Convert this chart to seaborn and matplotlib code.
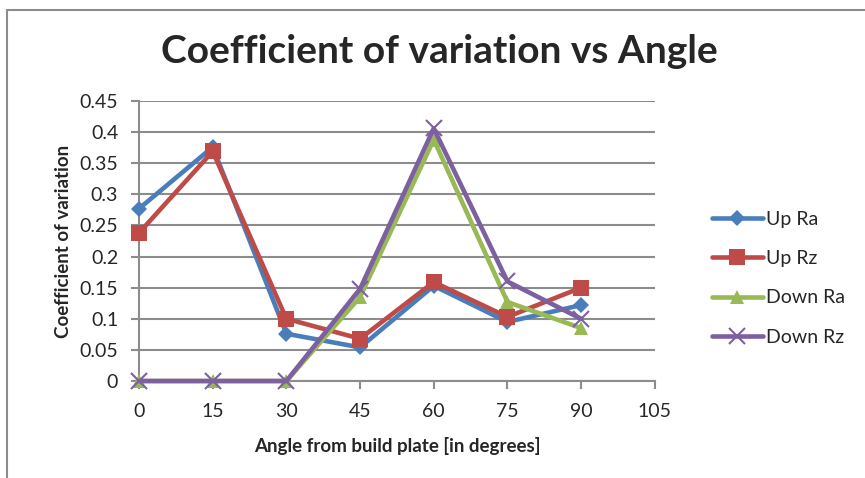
import pandas as pd
import numpy as np
import matplotlib
matplotlib.use('Agg')
import matplotlib.pyplot as plt
import seaborn as sns

# values
angles = [0, 15, 30, 45, 60, 75, 90]
up_ra = [0.277, 0.376, 0.076, 0.054, 0.153, 0.095, 0.122]
up_rz = [0.238, 0.369, 0.100, 0.068, 0.159, 0.103, 0.150]
down_ra = [0.0, 0.0, 0.0, 0.135, 0.388, 0.127, 0.085]
down_rz = [0.0, 0.0, 0.0, 0.148, 0.406, 0.160, 0.100]
series_names = ['Up Ra', 'Up Rz', 'Down Ra', 'Down Rz']
x_ticks = [0, 15, 30, 45, 60, 75, 90, 105]
y_ticks = [0, 0.05, 0.1, 0.15, 0.2, 0.25, 0.3, 0.35, 0.4, 0.45]

colors = {'Up Ra': '#4A7EBB', 'Up Rz': '#BE4B48', 'Down Ra': '#98B954', 'Down Rz': '#7D60A0'}
markers = {'Up Ra': 'D', 'Up Rz': 's', 'Down Ra': '^', 'Down Rz': 'x'}
msize = {'Up Ra': 8, 'Up Rz': 12, 'Down Ra': 10, 'Down Rz': 11}

df = pd.DataFrame({
    'angle': angles * 4,
    'cv': up_ra + up_rz + down_ra + down_rz,
    'series': sum([[s] * len(angles) for s in series_names], []),
})

sns.set_style('white')
plt.rcParams['font.family'] = ['Lato', 'DejaVu Sans']

fig = plt.figure(figsize=(8.65, 4.78), dpi=100)
ax = fig.add_axes([0.1607, 0.2029, 0.757 - 0.1607, 0.7887 - 0.2029])

for s in series_names:
    sub = df[df['series'] == s]
    sns.lineplot(data=sub, x='angle', y='cv', ax=ax, color=colors[s], marker=markers[s],
                 markersize=msize[s], linewidth=3.3, markeredgewidth=1.5 if s == 'Down Rz' else 0,
                 markeredgecolor=colors[s], label=s, clip_on=False, zorder=3)

ax.set_xlim(0, 105)
ax.set_ylim(0, 0.45)
ax.set_xticks(x_ticks)
ax.set_yticks(y_ticks)
ax.set_yticklabels(['0', '0.05', '0.1', '0.15', '0.2', '0.25', '0.3', '0.35', '0.4', '0.45'])
ax.yaxis.grid(True, color='#8C8C8C', linewidth=1.5)
ax.set_axisbelow(True)
for side in ['top', 'right']:
    ax.spines[side].set_visible(False)
for side in ['left', 'bottom']:
    ax.spines[side].set_color('#8C8C8C')
    ax.spines[side].set_linewidth(1.5)
ax.tick_params(axis='both', direction='out', length=6, width=1.5, color='#8C8C8C',
               labelsize=14, left=True, bottom=True)
ax.tick_params(axis='x', pad=10)
ax.tick_params(axis='y', pad=9)

ax.set_xlabel('Angle from build plate [in degrees]', fontsize=13.5, fontweight='bold', labelpad=12)
ax.set_ylabel('Coefficient of variation', fontsize=13.5, fontweight='bold', labelpad=5)
fig.text(0.508, 0.893, 'Coefficient of variation vs Angle', fontsize=28, fontweight='bold',
         ha='center', va='center')

leg = ax.legend(loc='center left', bbox_to_anchor=(0.803, 0.418), bbox_transform=fig.transFigure,
                frameon=False, fontsize=14, handlelength=2.6, labelspacing=1.15, handletextpad=0.15)

# chart border
fig.add_artist(plt.Line2D([0.008, 0.008], [0, 0.979], color='#8C8C8C', linewidth=1.5))
fig.add_artist(plt.Line2D([0.008, 1.0], [0.979, 0.979], color='#8C8C8C', linewidth=1.5))

fig.savefig('out.png', dpi=100)
